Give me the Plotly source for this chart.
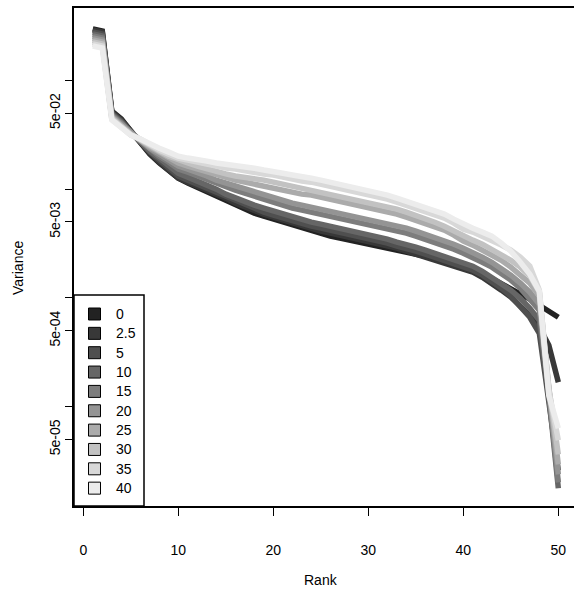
import plotly.graph_objects as go

rank = list(range(1, 51))
labels = ["0", "2.5", "5", "10", "15", "20", "25", "30", "35", "40"]

v_0 = [0.297, 0.284, 0.0522, 0.0441, 0.0342, 0.0265, 0.0210, 0.0174, 0.0147, 0.0126,
       0.0114, 0.0104, 0.00959, 0.00863, 0.00793, 0.00713, 0.00655, 0.00602, 0.00565, 0.00530,
       0.00497, 0.00467, 0.00438, 0.00411, 0.00386, 0.00370, 0.00355, 0.00340, 0.00326, 0.00306,
       0.00293, 0.00281, 0.00269, 0.00258, 0.00247, 0.00237, 0.00232, 0.00222, 0.00213, 0.00204,
       0.00188, 0.00169, 0.00152, 0.00137, 0.00123, 0.00111, 0.000974, 0.000857, 0.000755, 0.000665]
v_2_5 = [0.290, 0.278, 0.0511, 0.0432, 0.0342, 0.0265, 0.0215, 0.0177, 0.0150, 0.0126,
         0.0116, 0.0107, 0.00980, 0.00900, 0.00827, 0.00744, 0.00684, 0.00628, 0.00590, 0.00553,
         0.00519, 0.00487, 0.00457, 0.00429, 0.00411, 0.00394, 0.00378, 0.00355, 0.00340, 0.00326,
         0.00312, 0.00299, 0.00287, 0.00269, 0.00253, 0.00242, 0.00227, 0.00213, 0.00200, 0.00188,
         0.00173, 0.00155, 0.00137, 0.00118, 0.00102, 0.000857, 0.000694, 0.000538, 0.000368, 0.000168]
v_5 = [0.278, 0.267, 0.0501, 0.0423, 0.0335, 0.0271, 0.0219, 0.0185, 0.0156, 0.0132,
       0.0121, 0.0111, 0.0102, 0.00939, 0.00863, 0.00776, 0.00713, 0.00655, 0.00615, 0.00577,
       0.00542, 0.00508, 0.00487, 0.00457, 0.00438, 0.00420, 0.00403, 0.00378, 0.00362, 0.00347,
       0.00333, 0.00319, 0.00299, 0.00287, 0.00269, 0.00253, 0.00237, 0.00222, 0.00209, 0.00196,
       0.00180, 0.00162, 0.00143, 0.00123, 0.00104, 0.000840, 0.000665, 0.000474, 0.000115, 0.0000260]
v_10 = [0.267, 0.256, 0.0490, 0.0414, 0.0335, 0.0271, 0.0224, 0.0193, 0.0166, 0.0140,
        0.0129, 0.0119, 0.0109, 0.0100, 0.00900, 0.00827, 0.00760, 0.00713, 0.00669, 0.00628,
        0.00590, 0.00553, 0.00530, 0.00497, 0.00477, 0.00457, 0.00438, 0.00411, 0.00394, 0.00378,
        0.00362, 0.00347, 0.00326, 0.00312, 0.00293, 0.00275, 0.00258, 0.00242, 0.00227, 0.00213,
        0.00196, 0.00176, 0.00155, 0.00137, 0.00118, 0.000994, 0.000805, 0.000624, 0.000127, 0.0000178]
v_15 = [0.256, 0.245, 0.0480, 0.0405, 0.0328, 0.0277, 0.0233, 0.0201, 0.0177, 0.0153,
        0.0143, 0.0132, 0.0124, 0.0114, 0.0104, 0.00980, 0.00920, 0.00863, 0.00793, 0.00744,
        0.00713, 0.00669, 0.00642, 0.00615, 0.00590, 0.00565, 0.00542, 0.00519, 0.00497, 0.00477,
        0.00457, 0.00438, 0.00420, 0.00394, 0.00370, 0.00347, 0.00326, 0.00306, 0.00281, 0.00258,
        0.00237, 0.00213, 0.00192, 0.00169, 0.00146, 0.00123, 0.000994, 0.000771, 0.000136, 0.0000202]
v_20 = [0.245, 0.235, 0.0470, 0.0397, 0.0328, 0.0277, 0.0238, 0.0210, 0.0185, 0.0163,
        0.0153, 0.0140, 0.0132, 0.0121, 0.0114, 0.0107, 0.0100, 0.00939, 0.00882, 0.00827,
        0.00793, 0.00744, 0.00713, 0.00684, 0.00655, 0.00628, 0.00602, 0.00577, 0.00553, 0.00530,
        0.00508, 0.00487, 0.00467, 0.00438, 0.00411, 0.00386, 0.00362, 0.00340, 0.00312, 0.00287,
        0.00263, 0.00237, 0.00213, 0.00188, 0.00162, 0.00137, 0.00113, 0.000876, 0.000142, 0.0000239]
v_25 = [0.235, 0.225, 0.0460, 0.0388, 0.0321, 0.0283, 0.0244, 0.0219, 0.0193, 0.0174,
        0.0163, 0.0153, 0.0143, 0.0135, 0.0126, 0.0121, 0.0116, 0.0111, 0.0107, 0.0102,
        0.00980, 0.00939, 0.00900, 0.00882, 0.00845, 0.00810, 0.00776, 0.00744, 0.00713, 0.00669,
        0.00642, 0.00615, 0.00590, 0.00553, 0.00519, 0.00487, 0.00457, 0.00420, 0.00378, 0.00333,
        0.00306, 0.00275, 0.00247, 0.00222, 0.00192, 0.00165, 0.00137, 0.00104, 0.000148, 0.0000296]
v_30 = [0.225, 0.216, 0.0450, 0.0380, 0.0321, 0.0283, 0.0249, 0.0224, 0.0201, 0.0185,
        0.0174, 0.0163, 0.0153, 0.0147, 0.0138, 0.0132, 0.0129, 0.0124, 0.0121, 0.0116,
        0.0111, 0.0107, 0.0102, 0.00980, 0.00939, 0.00900, 0.00863, 0.00827, 0.00793, 0.00744,
        0.00713, 0.00684, 0.00655, 0.00615, 0.00577, 0.00542, 0.00497, 0.00457, 0.00411, 0.00370,
        0.00340, 0.00312, 0.00281, 0.00253, 0.00222, 0.00192, 0.00159, 0.00113, 0.000151, 0.0000365]
v_35 = [0.216, 0.207, 0.0441, 0.0372, 0.0314, 0.0289, 0.0254, 0.0229, 0.0210, 0.0193,
        0.0185, 0.0177, 0.0170, 0.0163, 0.0156, 0.0153, 0.0147, 0.0143, 0.0138, 0.0135,
        0.0129, 0.0124, 0.0119, 0.0116, 0.0111, 0.0107, 0.0102, 0.00980, 0.00939, 0.00882,
        0.00845, 0.00810, 0.00760, 0.00713, 0.00669, 0.00628, 0.00590, 0.00542, 0.00487, 0.00429,
        0.00403, 0.00370, 0.00340, 0.00306, 0.00275, 0.00237, 0.00196, 0.00118, 0.000142, 0.0000492]
v_40 = [0.207, 0.198, 0.0432, 0.0364, 0.0314, 0.0289, 0.0260, 0.0238, 0.0219, 0.0201,
        0.0193, 0.0189, 0.0181, 0.0174, 0.0170, 0.0166, 0.0160, 0.0156, 0.0150, 0.0147,
        0.0140, 0.0135, 0.0132, 0.0126, 0.0121, 0.0116, 0.0111, 0.0107, 0.0102, 0.00959,
        0.00920, 0.00882, 0.00827, 0.00776, 0.00729, 0.00684, 0.00642, 0.00590, 0.00530, 0.00477,
        0.00438, 0.00403, 0.00370, 0.00319, 0.00269, 0.00213, 0.00165, 0.00115, 0.000127, 0.0000634]

series = [v_0, v_2_5, v_5, v_10, v_15, v_20, v_25, v_30, v_35, v_40]
colors = ["#222222", "#383838", "#4f4f4f", "#666666", "#7d7d7d",
          "#949494", "#ababab", "#c2c2c2", "#d8d8d8", "#ececec"]

x_ticks = [0, 10, 20, 30, 40, 50]
y_ticks = [1e-1, 5e-2, 1e-2, 5e-3, 1e-3, 5e-4, 1e-4, 5e-5]
y_ticktext = ["", "5e-02", "", "5e-03", "", "5e-04", "", "5e-05"]

FONT = "Liberation Sans, Arial, Helvetica, sans-serif"
W, H = 574, 592
ML, MT, MB = 74, 8, 86
plot_w = W - ML
plot_h = H - MT - MB

fig = go.Figure()
for vals, col, lab in zip(series, colors, labels):
    fig.add_trace(go.Scatter(x=rank, y=vals, mode="lines", name=lab,
                             line=dict(color=col, width=5.5),
                             showlegend=False, hoverinfo="skip"))


def px_x(px):
    return (px - ML) / plot_w


def px_y(py):
    return (MT + plot_h - py) / plot_h


shapes = []
annotations = []
# legend box
shapes.append(dict(type="rect", xref="paper", yref="paper",
                   x0=px_x(74), x1=px_x(144), y0=px_y(506), y1=px_y(295),
                   line=dict(color="black", width=1.5), fillcolor="white", layer="above"))
for i, (col, lab) in enumerate(zip(colors, labels)):
    cy = 314 + i * 19.35
    shapes.append(dict(type="rect", xref="paper", yref="paper",
                       x0=px_x(88.5), x1=px_x(100.5), y0=px_y(cy + 6), y1=px_y(cy - 6),
                       line=dict(color="black", width=1), fillcolor=col, layer="above"))
    annotations.append(dict(xref="paper", yref="paper", x=px_x(114), y=px_y(cy),
                            text=lab, showarrow=False, xanchor="left", yanchor="middle",
                            font=dict(family=FONT, size=14, color="black")))

annotations.append(dict(xref="paper", yref="paper", x=px_x(321), y=px_y(580),
                        text="Rank", showarrow=False, xanchor="center", yanchor="middle",
                        font=dict(family=FONT, size=14, color="black")))
annotations.append(dict(xref="paper", yref="paper", x=px_x(18), y=px_y(268),
                        text="Variance", showarrow=False, textangle=-90,
                        xanchor="center", yanchor="middle",
                        font=dict(family=FONT, size=14, color="black")))

fig.update_layout(
    width=W, height=H,
    margin=dict(l=ML, r=0, t=MT, b=MB, pad=0),
    paper_bgcolor="white", plot_bgcolor="white",
    shapes=shapes, annotations=annotations,
    font=dict(family=FONT, size=14, color="black"),
    xaxis=dict(range=[-0.98, 51.65], tickvals=x_ticks, ticks="outside", ticklen=8,
               tickwidth=1, tickcolor="black", showline=True, mirror=True,
               linecolor="black", linewidth=1.5, showgrid=False, zeroline=False,
               ticklabelstandoff=22, tickfont=dict(family=FONT, size=14)),
    yaxis=dict(type="log", range=[-4.912, -0.335], tickvals=y_ticks, ticktext=y_ticktext,
               ticks="outside", ticklen=7, tickwidth=1, tickcolor="black",
               showline=True, mirror=False, linecolor="black", linewidth=1.5,
               showgrid=False, zeroline=False, tickangle=-90,
               tickfont=dict(family=FONT, size=14)),
)

fig.write_html("out.html")
